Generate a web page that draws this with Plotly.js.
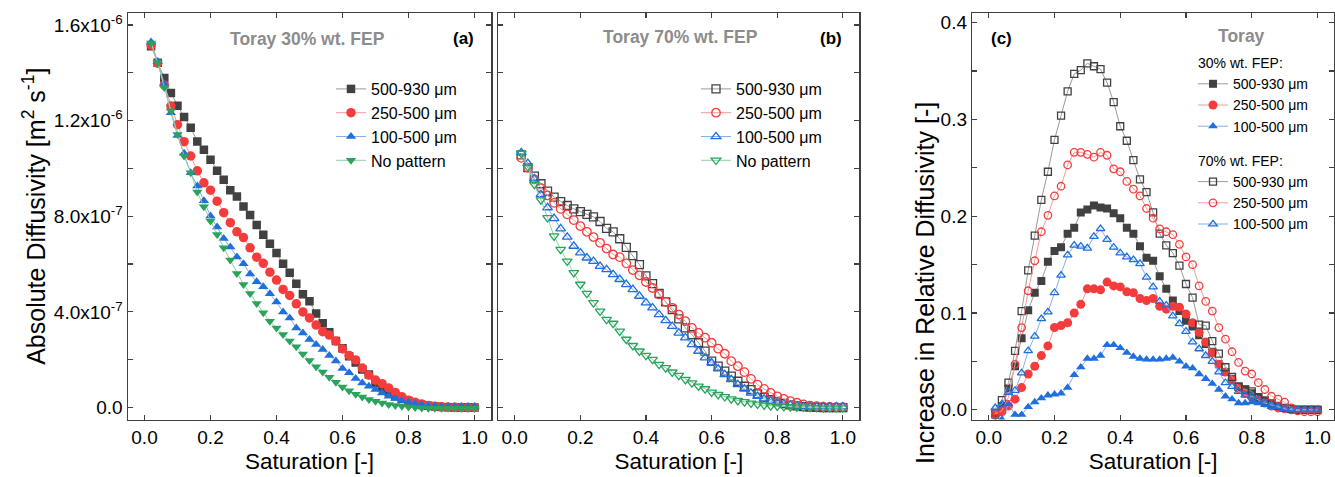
<!DOCTYPE html>
<html>
<head>
<meta charset="utf-8">
<script src="https://cdn.plot.ly/plotly-3.0.1.min.js"></script>
<style>html,body{margin:0;padding:0;background:#fff}#chart{width:1335px;height:477px}</style>
</head>
<body>
<div id="chart"></div>
<script>
// Saturation [-]
const saturation = [0.02,0.04,0.06,0.08,0.10,0.12,0.14,0.16,0.18,0.20,0.22,0.24,0.26,0.28,0.30,0.32,0.34,0.36,0.38,0.40,0.42,0.44,0.46,0.48,0.50,0.52,0.54,0.56,0.58,0.60,0.62,0.64,0.66,0.68,0.70,0.72,0.74,0.76,0.78,0.80,0.82,0.84,0.86,0.88,0.90,0.92,0.94,0.96,0.98,1.00];

// Panel (a): Toray 30% wt. FEP, absolute diffusivity in units of 1e-6 m2/s
const a_500_930 = [1.511,1.442,1.378,1.315,1.262,1.215,1.170,1.113,1.078,1.036,0.990,0.953,0.909,0.883,0.841,0.805,0.763,0.723,0.685,0.646,0.601,0.564,0.518,0.474,0.445,0.393,0.352,0.315,0.278,0.248,0.215,0.188,0.159,0.138,0.103,0.082,0.064,0.047,0.036,0.027,0.017,0.011,0.007,0.004,0.002,0.001,0.000,0.000,0.000,0.000];
const a_250_500 = [1.516,1.440,1.349,1.261,1.183,1.112,1.052,0.990,0.940,0.909,0.863,0.815,0.773,0.735,0.711,0.668,0.629,0.603,0.566,0.533,0.494,0.469,0.434,0.400,0.375,0.345,0.317,0.303,0.278,0.245,0.218,0.199,0.165,0.135,0.115,0.100,0.082,0.063,0.045,0.031,0.022,0.015,0.009,0.005,0.003,0.002,0.001,0.000,0.000,0.000];
const a_100_500 = [1.529,1.447,1.352,1.233,1.138,1.063,0.982,0.926,0.865,0.801,0.755,0.707,0.671,0.630,0.601,0.559,0.526,0.505,0.476,0.441,0.400,0.375,0.333,0.312,0.285,0.264,0.243,0.218,0.195,0.163,0.145,0.121,0.103,0.089,0.075,0.061,0.047,0.038,0.029,0.022,0.017,0.013,0.008,0.006,0.004,0.004,0.004,0.004,0.004,0.004];
const a_none    = [1.525,1.442,1.338,1.240,1.142,1.052,0.982,0.901,0.840,0.780,0.724,0.668,0.617,0.561,0.515,0.477,0.435,0.396,0.361,0.333,0.305,0.278,0.254,0.224,0.197,0.171,0.149,0.127,0.106,0.086,0.070,0.056,0.044,0.034,0.026,0.019,0.013,0.009,0.005,0.002,0.000,-0.002,-0.003,-0.003,-0.003,-0.003,-0.003,-0.003,-0.003,-0.003];

// Panel (b): Toray 70% wt. FEP, absolute diffusivity in units of 1e-6 m2/s
const b_500_930 = [1.057,1.003,0.968,0.936,0.905,0.880,0.861,0.845,0.831,0.819,0.808,0.797,0.778,0.749,0.735,0.706,0.670,0.635,0.598,0.551,0.518,0.477,0.442,0.410,0.371,0.333,0.305,0.271,0.236,0.194,0.173,0.152,0.131,0.110,0.089,0.075,0.057,0.043,0.033,0.024,0.017,0.011,0.007,0.004,0.002,0.001,0.000,0.000,0.000,0.000];
const b_250_500 = [1.044,1.003,0.954,0.918,0.887,0.856,0.831,0.808,0.784,0.759,0.735,0.713,0.689,0.665,0.640,0.629,0.603,0.575,0.553,0.525,0.500,0.473,0.442,0.417,0.389,0.361,0.333,0.312,0.292,0.271,0.246,0.225,0.194,0.173,0.148,0.120,0.096,0.078,0.061,0.047,0.036,0.027,0.020,0.013,0.008,0.006,0.004,0.003,0.002,0.002];
const b_100_500 = [1.066,1.021,0.957,0.891,0.836,0.791,0.748,0.713,0.675,0.647,0.626,0.612,0.591,0.577,0.556,0.536,0.515,0.494,0.466,0.438,0.417,0.389,0.364,0.340,0.312,0.292,0.264,0.236,0.208,0.187,0.162,0.138,0.117,0.096,0.078,0.061,0.047,0.036,0.027,0.020,0.014,0.010,0.006,0.004,0.003,0.003,0.003,0.003,0.003,0.003];
const b_none    = [1.063,1.006,0.933,0.868,0.794,0.717,0.661,0.612,0.564,0.515,0.477,0.438,0.403,0.368,0.352,0.319,0.285,0.259,0.236,0.218,0.201,0.180,0.166,0.148,0.134,0.117,0.103,0.089,0.078,0.064,0.054,0.045,0.036,0.029,0.024,0.018,0.014,0.010,0.007,0.006,0.004,0.003,0.002,0.001,0.000,-0.001,-0.002,-0.002,-0.002,-0.002];

// Panel (c): increase in relative diffusivity [-]
const c30_500_930 = [-0.005,0.004,0.022,0.045,0.074,0.103,0.121,0.133,0.153,0.164,0.168,0.182,0.188,0.204,0.207,0.211,0.209,0.208,0.203,0.198,0.188,0.182,0.169,0.157,0.154,0.138,0.125,0.113,0.102,0.092,0.086,0.077,0.068,0.060,0.047,0.039,0.032,0.024,0.021,0.017,0.013,0.010,0.007,0.004,0.002,0.001,0.000,0.000,0.000,0.000];
const c30_250_500 = [-0.005,-0.002,0.004,0.011,0.023,0.037,0.045,0.056,0.066,0.085,0.087,0.090,0.100,0.109,0.125,0.125,0.124,0.132,0.128,0.127,0.122,0.121,0.115,0.113,0.115,0.107,0.104,0.107,0.106,0.099,0.090,0.080,0.070,0.059,0.047,0.039,0.031,0.022,0.017,0.013,0.010,0.007,0.004,0.002,0.001,0.000,0.000,0.000,0.000,0.000];
const c30_100_500 = [-0.012,-0.010,0.006,-0.005,-0.005,0.003,0.008,0.012,0.015,0.016,0.017,0.023,0.036,0.044,0.053,0.053,0.056,0.067,0.067,0.064,0.059,0.055,0.053,0.052,0.052,0.052,0.053,0.054,0.050,0.045,0.043,0.037,0.032,0.027,0.021,0.014,0.011,0.007,0.007,0.008,0.007,0.005,0.003,0.002,0.001,0.000,0.000,0.000,0.000,0.000];
const c70_500_930 = [-0.003,0.010,0.028,0.061,0.102,0.144,0.180,0.217,0.246,0.279,0.304,0.329,0.347,0.351,0.358,0.355,0.352,0.338,0.318,0.293,0.278,0.258,0.238,0.225,0.204,0.182,0.170,0.162,0.149,0.130,0.116,0.088,0.087,0.071,0.058,0.044,0.034,0.024,0.021,0.019,0.013,0.009,0.007,0.004,0.002,0.001,0.000,0.000,0.000,0.000];
const c70_250_500 = [-0.004,-0.001,0.013,0.047,0.085,0.123,0.154,0.184,0.201,0.221,0.231,0.253,0.266,0.266,0.264,0.261,0.266,0.263,0.249,0.246,0.236,0.228,0.221,0.208,0.198,0.187,0.184,0.181,0.171,0.158,0.150,0.128,0.112,0.102,0.085,0.073,0.060,0.049,0.040,0.037,0.028,0.021,0.014,0.011,0.008,0.002,-0.001,-0.002,-0.002,-0.002];
const c70_100_500 = [0.002,0.006,0.018,0.020,0.038,0.061,0.076,0.094,0.101,0.121,0.139,0.160,0.170,0.169,0.167,0.179,0.187,0.176,0.168,0.162,0.158,0.155,0.151,0.137,0.127,0.112,0.108,0.097,0.089,0.081,0.070,0.063,0.056,0.050,0.039,0.028,0.024,0.019,0.015,0.014,0.010,0.007,0.005,0.003,0.001,0.000,0.000,0.000,0.000,0.000];

// Labels
const seriesNames = ['500-930 \u03bcm','250-500 \u03bcm','100-500 \u03bcm','No pattern'];
const xTickVals = [0,0.2,0.4,0.6,0.8,1.0];
const xTickText = ['0.0','0.2','0.4','0.6','0.8','1.0'];
const aTickVals = [0,0.4,0.8,1.2,1.6];
const aTickText = ['0.0','4.0x10<sup>-7</sup>','8.0x10<sup>-7</sup>','1.2x10<sup>-6</sup>','1.6x10<sup>-6</sup>'];
const cTickVals = [0,0.1,0.2,0.3,0.4];
const cTickText = ['0.0','0.1','0.2','0.3','0.4'];

// Styles
const FONT = 'Arial, "Liberation Sans", Helvetica, sans-serif';
const col = {
  black: {m:'#414141', l:'#9a9a9a'},
  red:   {m:'#F43C3C', l:'#F59A9A'},
  blue:  {m:'#1F6FDC', l:'#86AEEB'},
  green: {m:'#2AA35C', l:'#8ED0A8'}
};
const W = 1335, H = 477;
const px = v => v / W;
const py = v => 1 - v / H;

function tr(y, name, c, sym, size, xa, ya, leg, extra) {
  const open = sym.indexOf('open') >= 0;
  return Object.assign({
    type:'scatter', mode:'lines+markers', x: saturation, y: y, name: name,
    xaxis: xa, yaxis: ya, legend: leg,
    line: {color: c.l, width: 1},
    marker: {symbol: sym, size: size, color: c.m, line: {color: c.m, width: open ? 1.3 : 0}}
  }, extra || {});
}

const data = [
  tr(a_500_930, seriesNames[0], col.black, 'square', 8.5, 'x', 'y', 'legend'),
  tr(a_250_500, seriesNames[1], col.red, 'circle', 9.5, 'x', 'y', 'legend'),
  tr(a_100_500, seriesNames[2], col.blue, 'triangle-up', 9, 'x', 'y', 'legend'),
  tr(a_none, seriesNames[3], col.green, 'triangle-down', 9, 'x', 'y', 'legend'),

  tr(b_500_930, seriesNames[0], col.black, 'square-open', 8, 'x2', 'y2', 'legend2'),
  tr(b_250_500, seriesNames[1], col.red, 'circle-open', 8.5, 'x2', 'y2', 'legend2'),
  tr(b_100_500, seriesNames[2], col.blue, 'triangle-up-open', 8.5, 'x2', 'y2', 'legend2'),
  tr(b_none, seriesNames[3], col.green, 'triangle-down-open', 8.5, 'x2', 'y2', 'legend2'),

  tr(c30_500_930, seriesNames[0], col.black, 'square', 8, 'x3', 'y3', 'legend3', {legendgroup:'g30', legendgrouptitle:{text:'30% wt. FEP:', font:{size:14, color:'#000'}}}),
  tr(c30_250_500, seriesNames[1], col.red, 'circle', 9, 'x3', 'y3', 'legend3', {legendgroup:'g30'}),
  tr(c30_100_500, seriesNames[2], col.blue, 'triangle-up', 8.5, 'x3', 'y3', 'legend3', {legendgroup:'g30'}),
  tr(c70_500_930, seriesNames[0], col.black, 'square-open', 7, 'x3', 'y3', 'legend3', {legendgroup:'g70', legendgrouptitle:{text:'70% wt. FEP:', font:{size:14, color:'#000'}}}),
  tr(c70_250_500, seriesNames[1], col.red, 'circle-open', 7.5, 'x3', 'y3', 'legend3', {legendgroup:'g70'}),
  tr(c70_100_500, seriesNames[2], col.blue, 'triangle-up-open', 7.5, 'x3', 'y3', 'legend3', {legendgroup:'g70'})
];

const frame = {
  showline: true, linecolor: '#404040', linewidth: 1.5, mirror: 'allticks',
  ticks: 'inside', ticklen: 5, tickwidth: 1.2, tickcolor: '#404040',
  showgrid: false, zeroline: false, tickfont: {size: 19, color: '#000'}
};
const xCommon = Object.assign({}, frame, {
  range: [-0.05, 1.05], tickmode: 'array', tickvals: xTickVals, ticktext: xTickText,
  title: {text: 'Saturation [-]', font: {size: 22.5, color: '#000'}, standoff: 6}
});
const yDom = [1 - 419.5 / H, 1 - 13 / H];

const legCommon = {bgcolor: 'rgba(0,0,0,0)', borderwidth: 0, xanchor: 'left', yanchor: 'top', font: {size: 16, color: '#000'}, traceorder: 'normal'};

function note(text, x, y, size, color, extra) {
  return Object.assign({text: text, x: px(x), y: py(y), xref: 'paper', yref: 'paper', xanchor: 'center', yanchor: 'middle', showarrow: false, font: {size: size, color: color}}, extra || {});
}

const layout = {
  width: W, height: H,
  margin: {l: 0, r: 0, t: 0, b: 0},
  paper_bgcolor: '#fff', plot_bgcolor: '#fff',
  font: {family: FONT, color: '#000'},
  showlegend: true,
  xaxis: Object.assign({}, xCommon, {domain: [px(128), px(491)], anchor: 'y'}),
  yaxis: Object.assign({}, frame, {domain: yDom, anchor: 'x', range: [-0.05, 1.65],
    tickmode: 'array', tickvals: aTickVals, ticktext: aTickText,
    minor: {dtick: 0.2, tick0: 0, ticks: 'inside', ticklen: 5, tickwidth: 1.2, tickcolor: '#404040'},
    title: {text: 'Absolute Diffusivity [m<sup>2</sup> s<sup>-1</sup>]', font: {size: 25, color: '#000'}, standoff: 1}}),
  xaxis2: Object.assign({}, xCommon, {domain: [px(498.3), px(859.3)], anchor: 'y2'}),
  yaxis2: Object.assign({}, frame, {domain: yDom, anchor: 'x2', range: [-0.05, 1.65],
    tickmode: 'array', tickvals: aTickVals, ticktext: aTickText, showticklabels: false,
    minor: {dtick: 0.2, tick0: 0, ticks: 'inside', ticklen: 5, tickwidth: 1.2, tickcolor: '#404040'}}),
  xaxis3: Object.assign({}, xCommon, {domain: [px(972.3), 0.9992], anchor: 'y3'}),
  yaxis3: Object.assign({}, frame, {domain: yDom, anchor: 'x3', range: [-0.01, 0.41],
    tickmode: 'array', tickvals: cTickVals, ticktext: cTickText,
    minor: {dtick: 0.05, tick0: 0, ticks: 'inside', ticklen: 5, tickwidth: 1.2, tickcolor: '#404040'}}),
  legend: Object.assign({}, legCommon, {x: px(331), y: py(72)}),
  legend2: Object.assign({}, legCommon, {x: px(696), y: py(72)}),
  legend3: Object.assign({}, legCommon, {x: px(1193), y: py(47), font: {size: 14, color: '#000'}, traceorder: 'grouped', tracegroupgap: 13}),
  annotations: [
    note('<b>Toray 30% wt. FEP</b>', 307.5, 39, 17.5, '#8c8c8c'),
    note('<b>(a)</b>', 463, 39, 17, '#000'),
    note('<b>Toray 70% wt. FEP</b>', 680.5, 37, 17.5, '#8c8c8c'),
    note('<b>(b)</b>', 830.5, 39, 17, '#000'),
    note('<b>(c)</b>', 1001, 39, 17, '#000'),
    note('<b>Toray</b>', 1241, 36.5, 17.5, '#8c8c8c'),
    note('Increase in Relative Diffusivity [-]', 925, 283, 25, '#000', {textangle: -90})
  ]
};

Plotly.newPlot('chart', data, layout, {displayModeBar: false, staticPlot: true});
</script>
</body>
</html>
